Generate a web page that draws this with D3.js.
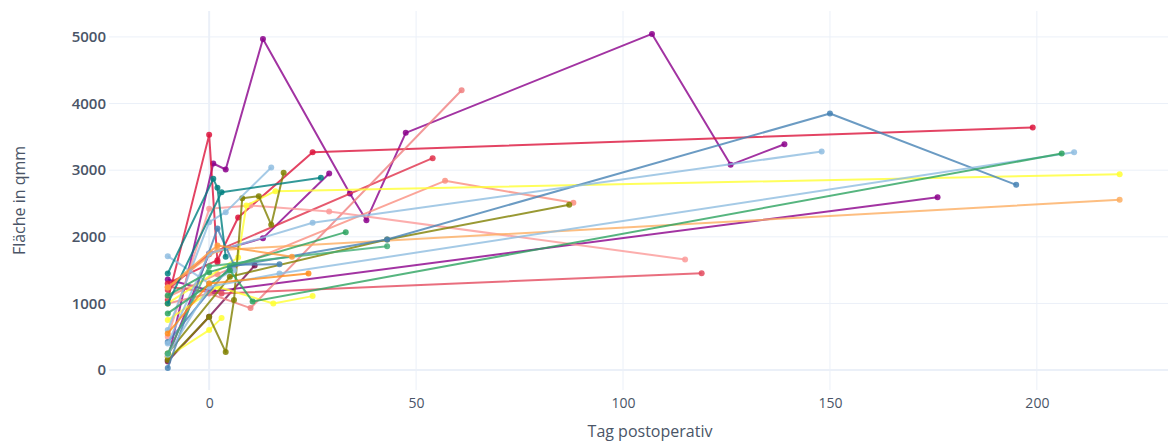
<!DOCTYPE html>
<html>
<head>
<meta charset="utf-8">
<script src="https://cdn.jsdelivr.net/npm/d3@7"></script>
<style>
  html, body { margin: 0; padding: 0; background: #fff; }
  svg { display: block; font-family: "Open Sans", "DejaVu Sans", sans-serif; }
</style>
</head>
<body>
<svg id="chart" width="1168" height="441"></svg>
<script>
// Wound area per patient over postoperative days (day -10 = preoperative measurement)
const patients = [
  "P01","P02","P03","P04","P05","P06","P07","P08","P09","P10",
  "P11","P12","P13","P14","P15","P16","P17","P18","P19","P20",
  "P21","P22","P23","P24","P25","P26","P27","P28","P29","P30"
];

const days = [
  [-10, 1, 4, 13, 34, 38, 47.5, 107, 126, 139],
  [-10, 0, 13, 29],
  [-10, 1, 176],
  [-10, 0, 11],
  [-10, 0, 2],
  [-10, 2, 7, 25, 199],
  [-10, 0, 54],
  [-10, 0, 10, 61],
  [-10, 2, 57, 88],
  [-10, 0, 10, 29, 115],
  [-10, 3, 119],
  [-10, 2, 220],
  [-10, 7, 9, 16, 220],
  [-10, 2, 15.5, 25],
  [-10, 0, 3],
  [-10, 0, 4, 6, 8, 12, 15, 18],
  [-10, 5, 43, 87],
  [-10, 5, 43, 150, 195],
  [-10, 2, 6, 17],
  [-10, 0, 25, 148],
  [-10, 0, 17, 209],
  [-10, 0, 4, 15],
  [-10, 0, 6],
  [-10, 5, 10.5, 206],
  [-10, 0, 33],
  [-10, 0, 43],
  [-10, 1, 2, 4],
  [-10, 3, 27],
  [-10, 0, 24],
  [-10, 2, 20]
];

const areas = [
  [150, 3100, 3010, 4970, 2650, 2250, 3560, 5045, 3080, 3390],
  [200, 1750, 1980, 2950],
  [1360, 1180, 2595],
  [130, 800, 1570],
  [1050, 3530, 1620],
  [1300, 1650, 2290, 3270, 3640],
  [1200, 1740, 3180],
  [1000, 1150, 930, 4200],
  [1100, 1440, 2840, 2510],
  [500, 2420, 2470, 2380, 1660],
  [1250, 1150, 1455],
  [1240, 1800, 2555],
  [1000, 1690, 2470, 2685, 2940],
  [750, 1250, 1000, 1110],
  [200, 600, 780],
  [150, 800, 270, 1050, 2580, 2610, 2180, 2960],
  [250, 1400, 1960, 2480],
  [420, 1550, 1960, 3850, 2780],
  [30, 2125, 1580, 1590],
  [400, 1750, 2210, 3280],
  [230, 1250, 1450, 3270],
  [600, 2220, 2370, 3040],
  [1710, 1300, 1500],
  [850, 1500, 1030, 3250],
  [1120, 1470, 2070],
  [250, 1560, 1860],
  [1450, 2870, 2735, 1700],
  [1000, 2670, 2885],
  [550, 1300, 1450],
  [1240, 1870, 1700]
];

const lineColors = [
  "#8b008b", "#8b008b", "#8b008b", "#7a1050", "#dc143c",
  "#dc143c", "#e0304a", "#f08080", "#fa8f80", "#fb9a99",
  "#e34a5e", "#fdae61", "#ffff33", "#ffff33", "#ffff33",
  "#808000", "#808000", "#4682b4", "#4682b4", "#8fbde0",
  "#8fbde0", "#8fbde0", "#8fbde0", "#2ca25f", "#2ca25f",
  "#41ae76", "#008080", "#008080", "#ff8c1a", "#ff9a3c"
];

const xTicks = [0, 50, 100, 150, 200];
const yTicks = [0, 1000, 2000, 3000, 4000, 5000];
const xTitle = "Tag postoperativ";
const yTitle = "Fläche in qmm";

const svg = d3.select("#chart");
const plot = { left: 109, right: 1190, top: 11, bottom: 390 };

const x = d3.scaleLinear().domain([-24.2, 237]).range([plot.left, plot.right]);
const y = d3.scaleLinear().domain([-299, 5389]).range([plot.bottom, plot.top]);

const gridColor = "#EBF0F8";
const textColor = "#4a5567";

// grid lines
const grid = svg.append("g");
grid.selectAll("line.gx").data(xTicks).join("line")
  .attr("x1", d => x(d)).attr("x2", d => x(d))
  .attr("y1", plot.top).attr("y2", plot.bottom)
  .attr("stroke", gridColor).attr("stroke-width", d => d === 0 ? 2 : 1);
grid.selectAll("line.gy").data(yTicks).join("line")
  .attr("x1", plot.left).attr("x2", plot.right)
  .attr("y1", d => y(d)).attr("y2", d => y(d))
  .attr("stroke", gridColor).attr("stroke-width", d => d === 0 ? 2 : 1);

// axes (labels only, no domain lines)
const xAxis = d3.axisBottom(x).tickValues(xTicks).tickSize(0).tickPadding(8);
const gx = svg.append("g").attr("transform", `translate(0,${plot.bottom})`).call(xAxis);
gx.select(".domain").remove();
gx.selectAll("text").attr("fill", textColor).style("font-size", "14px")
  .attr("font-family", "'Open Sans', sans-serif");

const yAxis = d3.axisLeft(y).tickValues(yTicks).tickSize(0).tickPadding(3).tickFormat(d3.format("d"));
const gy = svg.append("g").attr("transform", `translate(${plot.left},0)`).call(yAxis);
gy.select(".domain").remove();
gy.selectAll("text").attr("fill", textColor).style("font-size", "15px")
  .style("font-weight", "600")
  .attr("font-family", "'Open Sans', sans-serif");

// axis titles
svg.append("text")
  .attr("x", 650).attr("y", 437)
  .attr("text-anchor", "middle")
  .attr("fill", textColor).style("font-size", "16px")
  .text(xTitle);
svg.append("text")
  .attr("transform", `translate(25,${(plot.top + plot.bottom) / 2}) rotate(-90)`)
  .attr("text-anchor", "middle")
  .attr("fill", textColor).style("font-size", "16px")
  .text(yTitle);

// one trace per patient
const series = patients.map((name, i) => ({
  name,
  color: lineColors[i],
  points: days[i].map((d, j) => ({ day: d, area: areas[i][j] }))
}));

const line = d3.line().x(p => x(p.day)).y(p => y(p.area));

svg.append("clipPath").attr("id", "plotclip")
  .append("rect").attr("x", plot.left).attr("y", plot.top)
  .attr("width", plot.right - plot.left).attr("height", plot.bottom - plot.top);

const traces = svg.append("g").attr("clip-path", "url(#plotclip)")
  .selectAll("g.trace").data(series).join("g").attr("class", "trace");

traces.append("path")
  .attr("d", s => line(s.points))
  .attr("fill", "none")
  .attr("stroke", s => s.color)
  .attr("stroke-width", 2)
  .attr("stroke-opacity", 0.8)
  .attr("stroke-linejoin", "round");

traces.selectAll("circle").data(s => s.points.map(p => ({ ...p, color: s.color }))).join("circle")
  .attr("cx", p => x(p.day))
  .attr("cy", p => y(p.area))
  .attr("r", 3)
  .attr("fill", p => p.color)
  .attr("fill-opacity", 0.85);
</script>
</body>
</html>
